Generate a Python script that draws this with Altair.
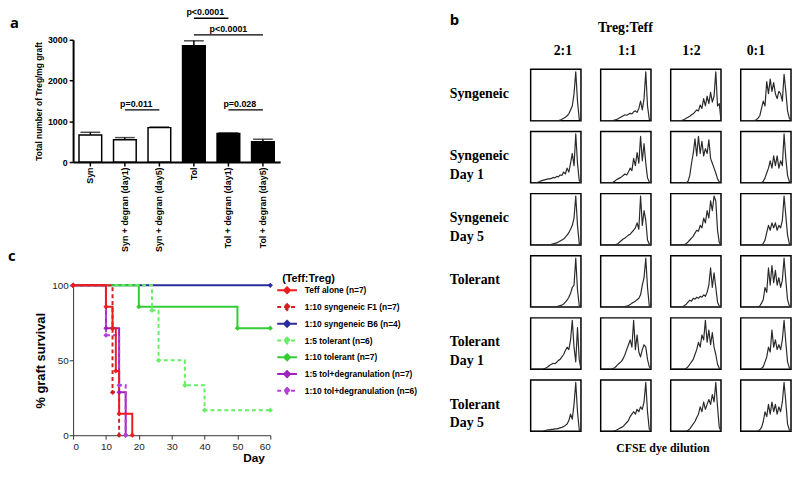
import altair as alt
import pandas as pd

# ---------------- Panel a data ----------------
a_groups = ["Syn", "Syn + degran (day1)", "Syn + degran (day5)",
            "Tol", "Tol + degran (day1)", "Tol + degran (day5)"]
a_means = [665, 545, 845, 2855, 700, 500]
a_err_top = [730, 600, 860, 2975, 715, 560]
a_fills = ["white", "white", "white", "black", "black", "black"]

sig_labels = ["p<0.0001", "p<0.0001", "p=0.011", "p=0.028"]
sig_from = ["Tol", "Tol", "Syn + degran (day1)", "Tol + degran (day1)"]
sig_to = ["Tol + degran (day1)", "Tol + degran (day5)", "Syn + degran (day5)", "Tol + degran (day5)"]
sig_level = [3530, 3120, 1280, 1280]
sig_text_at = ["Tol", "Tol + degran (day1)", "Syn + degran (day1)", "Tol + degran (day1)"]
sig_text_band = [1.0, 0.5, 1.0, 1.0]

# ---------------- Panel c data ----------------
surv_names = ["Teff alone (n=7)", "1:10 syngeneic F1 (n=7)", "1:10 syngeneic B6 (n=4)",
              "1:5 tolerant (n=6)", "1:10 tolerant (n=7)", "1:5 tol+degranulation (n=7)",
              "1:10 tol+degranulation (n=6)"]
surv_colors = ["#ee1c1c", "#cc2222", "#2b2b9e", "#66ee66", "#33cc33", "#a020c0", "#b540d5"]
surv_dashes = [[1, 0], [4, 3], [1, 0], [4, 3], [1, 0], [1, 0], [4, 3]]

teff_day = [0, 10, 12, 13, 14, 18]
teff_pct = [100, 85.7, 71.4, 42.9, 14.3, 0]
f1_day = [0, 12, 12, 14]
f1_pct = [100, 71.4, 28.6, 0]
b6_day = [0, 60]
b6_pct = [100, 100]
tol5_day = [0, 24, 26, 34, 40, 60]
tol5_pct = [100, 83.3, 50, 33.3, 16.7, 16.7]
tol10_day = [0, 20, 50, 60]
tol10_pct = [100, 85.7, 71.4, 71.4]
deg5_day = [0, 10, 14, 16]
deg5_pct = [100, 71.4, 28.6, 0]
deg10_day = [0, 10, 14, 16]
deg10_pct = [100, 66.7, 33.3, 0]

# ---------------- Panel b data (CFSE histograms, 30 bins) ----------------
b_cols = ["2:1", "1:1", "1:2", "0:1"]
b_rows = ["Syngeneic", "Syngeneic Day 1", "Syngeneic Day 5",
          "Tolerant", "Tolerant Day 1", "Tolerant Day 5"]

syn_2_1 = [0,0,0,0,0,0,0,0,0,0,0,0,0,0,0,0,0,1,3,5,7,10,14,22,30,55,100,40,3,0]
syn_1_1 = [0,0,0,0,0,0,0,0,1,2,4,6,8,10,12,11,13,15,14,18,20,17,25,40,22,45,100,30,3,0]
syn_1_2 = [0,0,0,0,0,0,0,1,3,5,7,9,12,14,18,22,20,32,25,45,30,50,35,58,38,50,100,30,35,0]
syn_0_1 = [0,0,0,0,0,0,0,0,0,2,5,10,25,40,30,80,55,85,60,78,55,45,60,55,40,95,60,20,5,0]

sd1_2_1 = [0,0,0,0,1,2,4,5,6,7,8,8,9,11,10,13,12,16,15,22,18,30,22,40,60,35,100,40,5,0]
sd1_1_1 = [0,0,0,0,0,0,0,1,3,6,8,10,12,15,18,16,22,30,25,50,35,62,40,95,45,80,40,10,2,0]
sd1_1_2 = [0,0,0,0,0,0,0,0,0,0,3,15,40,60,90,55,95,60,85,55,70,60,88,50,40,30,20,8,2,0]
sd1_0_1 = [0,0,0,0,0,0,0,0,0,0,0,0,0,3,10,20,30,45,30,55,35,55,30,45,35,100,50,15,3,0]

sd5_2_1 = [0,0,0,0,0,0,0,0,0,0,0,0,1,2,3,4,6,8,10,12,16,20,25,32,40,55,100,40,3,0]
sd5_1_1 = [0,0,0,0,0,0,0,0,0,1,3,6,9,12,14,17,20,22,26,30,35,45,32,100,40,70,50,10,2,0]
sd5_1_2 = [0,0,0,0,0,0,0,0,1,3,6,10,14,18,24,30,28,40,35,55,45,70,55,90,70,100,90,30,5,0]
sd5_0_1 = [0,0,0,0,0,0,0,0,0,0,0,0,0,3,10,25,40,30,45,35,45,30,40,35,50,100,60,20,3,0]

tol_2_1 = [0,0,0,0,0,0,0,0,0,0,0,0,0,0,0,1,2,3,4,6,10,14,20,28,40,45,100,35,3,0]
tol_1_1 = [0,0,0,0,0,0,0,0,0,0,0,0,0,0,1,2,3,5,8,10,12,15,18,25,45,60,100,40,3,0]
tol_1_2 = [0,0,0,0,0,0,0,1,3,6,10,14,12,18,16,20,18,22,20,25,22,30,45,80,40,70,40,10,2,0]
tol_0_1 = [0,0,0,0,0,0,0,0,0,0,0,2,8,15,40,30,80,45,85,50,75,45,60,40,55,100,55,15,3,0]

td1_2_1 = [0,0,0,0,0,0,0,0,1,3,5,8,10,12,11,14,18,20,25,30,38,45,40,60,100,45,15,85,20,0]
td1_1_1 = [0,0,0,0,0,0,0,1,3,6,10,13,16,22,30,40,50,60,45,100,40,70,35,25,40,50,45,20,5,0]
td1_1_2 = [0,0,0,0,0,0,0,0,0,2,5,10,15,20,30,40,55,45,70,60,100,55,80,50,75,45,30,10,2,0]
td1_0_1 = [0,0,0,0,0,0,0,0,0,0,0,0,2,5,15,25,45,35,80,45,60,40,50,40,60,100,55,15,3,0]

td5_2_1 = [0,0,0,0,0,0,0,0,1,2,3,3,4,4,5,5,6,7,8,10,12,15,22,35,25,55,100,40,3,0]
td5_1_1 = [0,0,0,0,0,0,0,0,1,2,4,6,8,10,14,18,22,30,35,40,35,45,40,50,45,60,100,40,5,0]
td5_1_2 = [0,0,0,0,0,0,0,0,0,0,2,5,10,15,20,28,35,50,40,60,45,55,65,55,75,60,100,50,8,0]
td5_0_1 = [0,0,0,0,0,0,0,0,0,0,0,3,8,20,40,30,55,35,60,40,55,35,50,40,60,100,60,15,3,0]

hist_table = [
    [syn_2_1, syn_1_1, syn_1_2, syn_0_1],
    [sd1_2_1, sd1_1_1, sd1_1_2, sd1_0_1],
    [sd5_2_1, sd5_1_1, sd5_1_2, sd5_0_1],
    [tol_2_1, tol_1_1, tol_1_2, tol_0_1],
    [td1_2_1, td1_1_1, td1_1_2, td1_0_1],
    [td5_2_1, td5_1_1, td5_1_2, td5_0_1],
]

# ---------------- build tables ----------------
a_df = pd.DataFrame({"group": a_groups, "mean": a_means, "err": a_err_top, "fill": a_fills})
sig_df = pd.DataFrame({"label": sig_labels, "from": sig_from, "to": sig_to,
                       "level": sig_level, "at": sig_text_at, "band": sig_text_band})

surv_parts = [
    (surv_names[2], b6_day, b6_pct),
    (surv_names[4], tol10_day, tol10_pct),
    (surv_names[3], tol5_day, tol5_pct),
    (surv_names[5], deg5_day, deg5_pct),
    (surv_names[6], deg10_day, deg10_pct),
    (surv_names[1], f1_day, f1_pct),
    (surv_names[0], teff_day, teff_pct),
]
rows = []
for name, days, pcts in surv_parts:
    for i, (d, p) in enumerate(zip(days, pcts)):
        rows.append({"series": name, "day": d, "pct": p, "idx": i})
surv_df = pd.DataFrame(rows)

hrows = []
for ri, cond in enumerate(b_rows):
    for ci, ratio in enumerate(b_cols):
        for bi, v in enumerate(hist_table[ri][ci]):
            hrows.append({"cond": cond, "ratio": ratio, "bin": bi, "count": v})
hist_df = pd.DataFrame(hrows)
n_bins = len(syn_2_1)

SANS = "Liberation Sans"
SERIF = "Liberation Serif"
LETTER = "Open Sans"

# ---------------- Panel a chart ----------------
a_xaxis = alt.Axis(title=None, labelAngle=270, labelFontSize=9, labelFontWeight="bold",
                   labelColor="black", domainColor="black", domainWidth=2, tickColor="black",
                   tickWidth=1.5, tickSize=4, labelPadding=1, labelLimit=200)
a_yaxis = alt.Axis(title="Total number of Treg/mg graft", values=[0, 1000, 2000, 3000], grid=False,
                   format="d",
                   labelFontSize=9, labelFontWeight="bold", labelColor="black",
                   titleFontSize=8.5, titleFontWeight="bold", titleColor="black",
                   domainColor="black", domainWidth=2, tickColor="black", tickWidth=1.5,
                   tickSize=4, labelPadding=2, titlePadding=4)
a_xscale = alt.Scale(domain=a_groups, paddingInner=0.34, paddingOuter=0.17)
a_yscale = alt.Scale(domain=[0, 3000], nice=False)


def ax(field, **kw):
    return alt.X(field, type="nominal", sort=a_groups, scale=a_xscale, axis=a_xaxis, **kw)


def ay(field):
    return alt.Y(field, type="quantitative", scale=a_yscale, axis=a_yaxis)


bars = alt.Chart(a_df).mark_bar(size=23, stroke="black", strokeWidth=1.5).encode(
    x=ax("group"), y=ay("mean"), fill=alt.Fill("fill:N", scale=None))
err_rule = alt.Chart(a_df).mark_rule(color="black", strokeWidth=1.5).encode(
    x=ax("group"), y=ay("mean"), y2="err:Q")
err_cap = alt.Chart(a_df).mark_tick(color="black", size=20, thickness=1.5).encode(
    x=ax("group"), y=ay("err"))
sig_rule = alt.Chart(sig_df).mark_rule(color="black", strokeWidth=1.5).encode(
    x=ax("from"), x2="to:N", y=ay("level"))
sig_txt1 = alt.Chart(sig_df).transform_filter(alt.datum.band == 1).mark_text(
    font=SANS, fontSize=9, fontWeight="bold", baseline="bottom", dy=-1, color="black").encode(
    x=ax("at", bandPosition=1), y=ay("level"), text="label:N")
sig_txt2 = alt.Chart(sig_df).transform_filter(alt.datum.band != 1).mark_text(
    font=SANS, fontSize=9, fontWeight="bold", baseline="bottom", dy=-1, color="black").encode(
    x=ax("at", bandPosition=0.5), y=ay("level"), text="label:N")
a_letter = alt.Chart(pd.DataFrame({"t": ["a"]})).mark_text(
    font=LETTER, fontSize=15, fontWeight="bold", align="left", baseline="middle", color="black").encode(
    text="t:N", x=alt.value(-64), y=alt.value(-17))

panel_a = alt.layer(bars, err_rule, err_cap, sig_rule, sig_txt1, sig_txt2, a_letter).properties(
    width=210, height=124)

# ---------------- Panel c chart ----------------
legend_c = alt.Legend(
    title="(Teff:Treg)", orient="none", legendX=212, legendY=237,
    titleFont=SANS, titleFontSize=11, titleFontWeight="bold", titleColor="black", titlePadding=1,
    labelFont=SANS, labelFontSize=8.5, labelFontWeight="bold", labelColor="black",
    labelOffset=13, rowPadding=3,
    symbolType="M-2.5,0H2.5M0,-0.75L0.75,0L0,0.75L-0.75,0Z", symbolSize=64, symbolStrokeWidth=2)
c_color = alt.Scale(domain=surv_names, range=surv_colors)
c_dash = alt.Scale(domain=surv_names, range=surv_dashes)
c_x = alt.X("day:Q", scale=alt.Scale(domain=[0, 60], nice=False),
            axis=alt.Axis(title="Day", values=list(range(0, 61, 10)), grid=False,
                          labelFont=SANS, labelFontSize=10, labelColor="#222",
                          domainColor="#333", tickColor="#333", tickSize=4, labelPadding=2,
                          titleFont=SANS, titleFontSize=12, titleFontWeight="bold", titleColor="black",
                          titleX=183, titleY=18, titleAlign="center", titleBaseline="top"))
c_y = alt.Y("pct:Q", scale=alt.Scale(domain=[0, 100], nice=False),
            axis=alt.Axis(title="% graft survival", values=[0, 50, 100], grid=False,
                          labelFont=SANS, labelFontSize=10, labelColor="#222",
                          domainColor="#333", tickColor="#333", tickSize=4, labelPadding=1,
                          titleFont=SANS, titleFontSize=13, titleFontWeight="bold",
                          titleColor="black", titlePadding=4))
c_lines = alt.Chart(surv_df).mark_line(interpolate="step-after", strokeWidth=2).encode(
    x=c_x, y=c_y,
    color=alt.Color("series:N", scale=c_color, legend=legend_c),
    strokeDash=alt.StrokeDash("series:N", scale=c_dash, legend=legend_c),
    order=alt.Order("idx:Q"))
c_points = alt.Chart(surv_df).mark_point(shape="diamond", filled=True, size=28, opacity=1).encode(
    x=c_x, y=c_y, color=alt.Color("series:N", scale=c_color, legend=legend_c))
c_letter = alt.Chart(pd.DataFrame({"t": ["c"]})).mark_text(
    font=LETTER, fontSize=15, fontWeight="bold", align="left", baseline="middle", color="black").encode(
    text="t:N", x=alt.value(-66), y=alt.value(-30))

panel_c = alt.layer(c_lines, c_points, c_letter).properties(width=200, height=152)

left = alt.vconcat(panel_a, panel_c, spacing=-3)

# ---------------- Panel b chart ----------------
cell_view = alt.ViewBackground(stroke="black", strokeWidth=1.5)


def cell(ri, ci):
    line = alt.Chart(hist_df).transform_filter(
        (alt.datum.cond == b_rows[ri]) & (alt.datum.ratio == b_cols[ci])
    ).mark_line(color="#2a2a2a", strokeWidth=1.2, strokeJoin="round", clip=True).encode(
        x=alt.X("bin:Q", scale=alt.Scale(domain=[0, n_bins - 1], nice=False), axis=None),
        y=alt.Y("count:Q", scale=alt.Scale(domain=[0, 105], nice=False), axis=None))
    if ci == 0:
        lab = alt.Chart(pd.DataFrame({"t": [b_rows[ri].replace(" Day", "\nDay")]})).mark_text(
            font=SERIF, fontSize=14, fontWeight="bold", align="left", baseline="middle",
            lineBreak="\n", lineHeight=19, color="black").encode(
            text="t:N", x=alt.value(-82), y=alt.value(25))
        ch = alt.layer(line, lab)
    else:
        ch = line
    return ch.properties(width=51, height=52, view=cell_view)


col_lab = alt.Chart(pd.DataFrame({"ratio": b_cols})).mark_text(
    font=SERIF, fontSize=14, fontWeight="bold", baseline="middle", color="black").encode(
    x=alt.X("ratio:N", sort=b_cols,
            scale=alt.Scale(domain=b_cols, paddingInner=19 / 70, paddingOuter=0), axis=None),
    y=alt.value(11), text="ratio:N")
treg_title = alt.Chart(pd.DataFrame({"t": ["Treg:Teff"]})).mark_text(
    font=SERIF, fontSize=14, fontWeight="bold", baseline="middle", color="black").encode(
    text="t:N", x=alt.value(96), y=alt.value(-12))
b_letter = alt.Chart(pd.DataFrame({"t": ["b"]})).mark_text(
    font=LETTER, fontSize=15, fontWeight="bold", align="left", baseline="middle", color="black").encode(
    text="t:N", x=alt.value(-82), y=alt.value(-20))
top_pad = alt.Chart(pd.DataFrame({"t": ["."]})).mark_text(
    fontSize=10, baseline="top", opacity=0).encode(
    text="t:N", x=alt.value(0), y=alt.value(-32))
header = alt.layer(col_lab, treg_title, b_letter, top_pad).properties(width=261, height=20)

b_rows_charts = [alt.hconcat(*[cell(ri, ci) for ci in range(len(b_cols))], spacing=18)
                 for ri in range(len(b_rows))]
right = alt.vconcat(header, *b_rows_charts, spacing=9,
                    title=alt.TitleParams("CFSE dye dilution", orient="bottom", anchor="middle",
                                          font=SERIF, fontSize=12, fontWeight="bold",
                                          color="black", offset=11, dx=43))

chart = alt.hconcat(left, right, spacing=171).properties(
    padding={"left": 0, "top": -3, "right": 0, "bottom": 0}).configure(
    font=SANS).configure_view(stroke=None)

chart.save("out.html", embed_options={"renderer": "svg", "actions": False})
